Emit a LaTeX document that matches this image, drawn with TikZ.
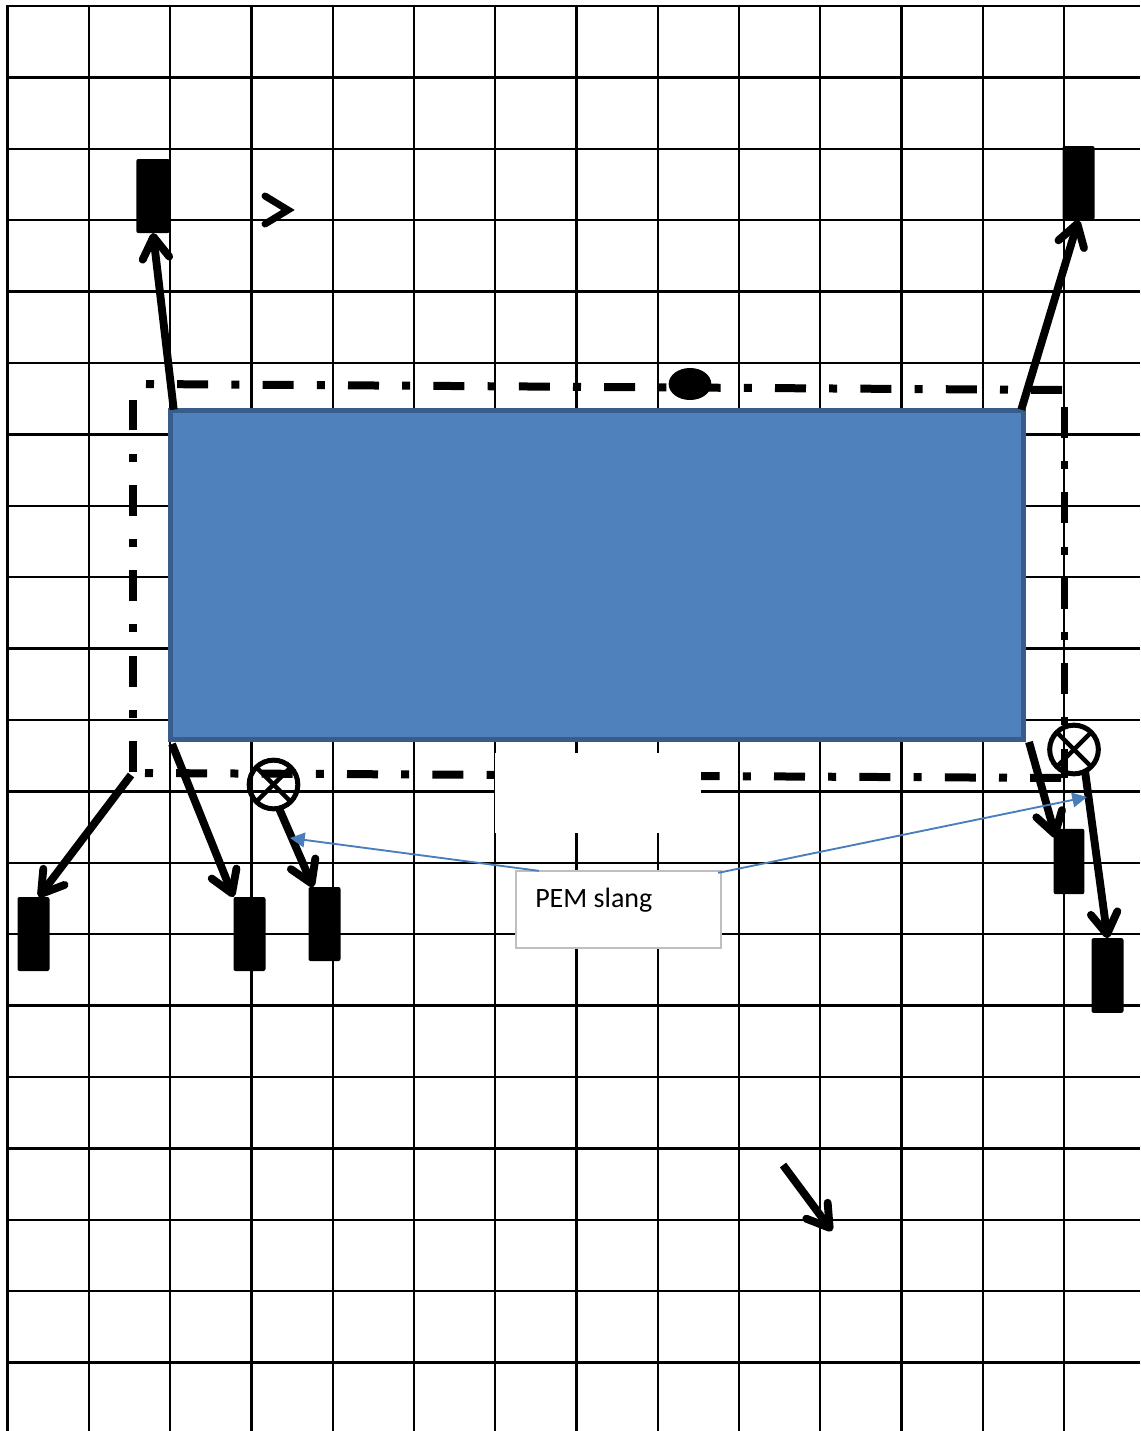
\documentclass[tikz,border=0pt]{standalone}
\usepackage{fontspec}
\setmainfont{Carlito}
\usetikzlibrary{arrows.meta,shapes.geometric}
\definecolor{paneblue}{HTML}{4F81BD}
\definecolor{paneedge}{HTML}{385D8A}
\definecolor{leaderblue}{HTML}{4A7EBB}
\definecolor{labeledge}{HTML}{BFBFBF}
\tikzset{
  gridline/.style={line width=1.75pt},
  piperun/.style={line width=6pt, dash pattern=on 6pt off 17.4pt on 23.25pt off 17.4pt},
  pipearrow/.style={line width=5.9pt, -{Straight Barb[round,length=16pt,width=20pt]}},
  blockfoot/.style={fill=black, inner sep=0pt, outer sep=0pt, rounded corners=1.5pt},
  valvemark/.style={circle, draw, line width=3.75pt, minimum size=36.5pt, inner sep=0pt, outer sep=0pt},
  leader/.style={leaderblue, line width=1.4pt, -{Triangle[length=11pt,width=11pt]}},
}
\begin{document}
\begin{tikzpicture}[x=0.75pt,y=-0.75pt]
\useasboundingbox (0,0) rectangle (1140,1431);

% grid
\foreach \i in {0,...,13}
  \draw[gridline] ({7.6+81.27*\i},6) -- ({7.6+81.27*\i},1431);
\foreach \j in {0,...,19}
  \draw[gridline] (6,{6+71.4*\j}) -- (1140,{6+71.4*\j});

% dash-dot pipe round the pane
\draw[piperun] (146,384) -- (1063,390);
\draw[piperun] (145,773) -- (1063,778);
\draw[piperun, dash pattern=on 23.25pt off 17.4pt on 6pt off 17.4pt] (133,772) -- (133,400);
\draw[piperun, line width=5.25pt, dash pattern=on 23.25pt off 17.4pt on 6pt off 17.4pt] (1064.5,407) -- (1064.5,778);

\node[fill=paneblue, draw=paneedge, line width=3.75pt, minimum width=639.4pt, minimum height=246.5pt, inner sep=0pt, outer sep=0pt] (pane) at (597,575) {};
\node[fill=white, minimum width=154.5pt, minimum height=60pt, inner sep=0pt] (patch) at (598,793) {};
\node[fill=black, ellipse, minimum width=32pt, minimum height=24pt, inner sep=0pt] (sensor) at (690,384) {};

% blocks
\node[blockfoot, minimum width=25pt, minimum height=55.5pt] (blocka) at (153,196) {};
\node[blockfoot, minimum width=24pt, minimum height=55.5pt] (blockb) at (1078.5,183) {};
\node[blockfoot, minimum width=24pt, minimum height=55.5pt] (blockc) at (33.5,934) {};
\node[blockfoot, minimum width=24pt, minimum height=55.5pt] (blockd) at (249.5,934) {};
\node[blockfoot, minimum width=24pt, minimum height=55.5pt] (blocke) at (324.5,924) {};
\node[blockfoot, minimum width=23pt, minimum height=49pt] (blockf) at (1069,861.5) {};
\node[blockfoot, minimum width=24pt, minimum height=56pt] (blockg) at (1107.5,975.5) {};

% valves
\node[valvemark] (valvea) at (273.5,784.5) {};
\node[valvemark] (valveb) at (1074,749.5) {};
\foreach \v in {valvea,valveb} {
  \draw[line width=3.4pt] (\v.45) -- (\v.225);
  \draw[line width=3.4pt] (\v.135) -- (\v.315);
}

% arrows
\coordinate (leftend) at (131,775);
\coordinate (paneb) at (172,744);
\coordinate (panec) at (1029,742);
\coordinate (tipf) at (1056,838);
\coordinate (looseup) at (783,1165);
\coordinate (loosedn) at (832,1231);
\draw[pipearrow] (pane.north west) ++(3,-1) -- (blocka.south);
\draw[pipearrow] (pane.north east) ++(-2,-1) -- (blockb.south);
\draw[pipearrow] (leftend) -- (blockc.82);
\draw[pipearrow] (paneb) -- (blockd.north west);
\draw[pipearrow] (valvea.283) -- (blocke.107);
\draw[pipearrow] (panec) -- (tipf);
\draw[pipearrow] (valveb.297) -- (blockg.north);
\draw[pipearrow] (looseup) -- (loosedn);
\coordinate (kinka) at (265,196);
\coordinate (kinkb) at (288,210);
\coordinate (kinkc) at (265,224);
\draw[line width=5.25pt, line cap=round] (kinka) -- (kinkb) -- (kinkc);

% label
\node[fill=white, draw=labeledge, line width=1.5pt, minimum width=154pt, minimum height=58pt, inner sep=0pt, outer sep=0pt] (label) at (618.5,909.5) {};
\node[anchor=base west, font=\fontsize{21}{24}\selectfont, inner sep=0pt] (labeltext) at (535,907) {PEM slang};
\coordinate (leadera) at (290,838);
\coordinate (leaderb) at (1087,797);
\draw[leader] (label.north west) ++(23,0) -- (leadera);
\draw[leader] (label.north east) ++(-3,2) -- (leaderb);
\end{tikzpicture}
\end{document}
